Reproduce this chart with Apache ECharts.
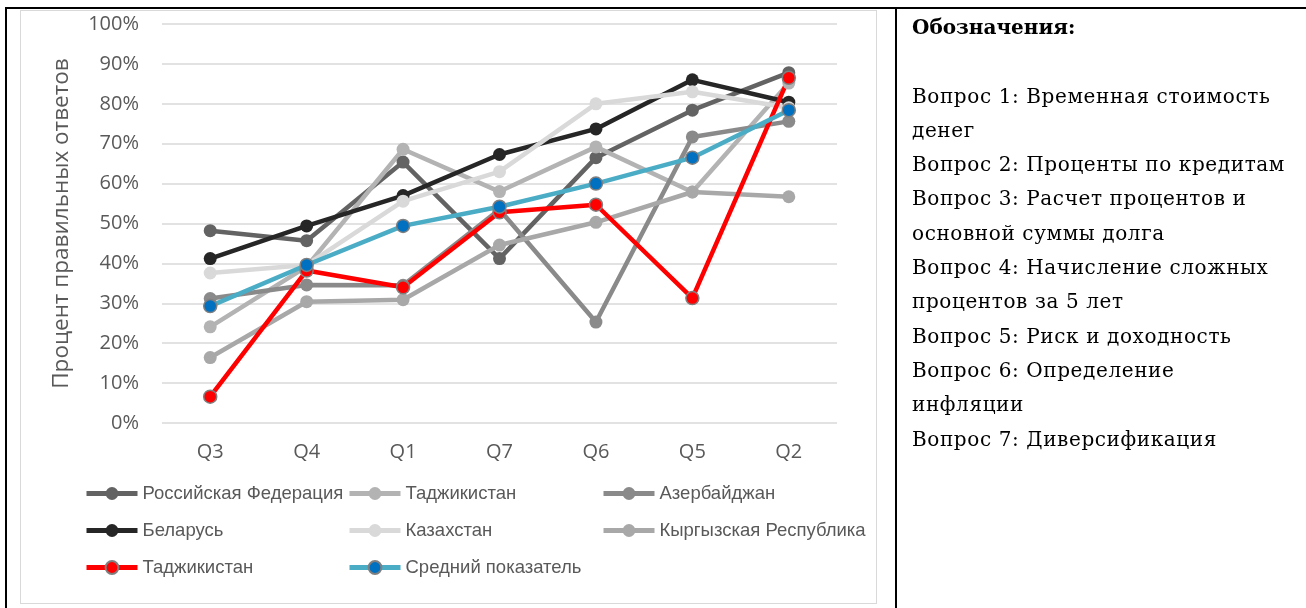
<!DOCTYPE html>
<html>
<head>
<meta charset="utf-8">
<script src="https://cdn.jsdelivr.net/npm/echarts@6/dist/echarts.min.js"></script>
<style>
  html, body { margin: 0; padding: 0; background: #fff; }
  #page { position: relative; width: 1306px; height: 608px; overflow: hidden; }
  #frameTop { position: absolute; left: 5px; top: 7px; width: 1301px; height: 2px; background: #000; }
  #frameLeft { position: absolute; left: 5px; top: 7px; width: 2px; height: 601px; background: #000; }
  #frameMid { position: absolute; left: 895px; top: 7px; width: 2px; height: 601px; background: #000; }
  #chartBox { position: absolute; left: 20px; top: 10px; width: 855px; height: 592px; border: 1px solid #d9d9d9; }
  #chart { position: absolute; left: 0; top: 0; width: 1306px; height: 608px; }
  #notes { position: absolute; left: 912px; top: 10px; width: 390px; font-family: "DejaVu Serif", serif; font-size: 20px; letter-spacing: 0.6px; line-height: 34.3px; color: #000; white-space: nowrap; }
  #notes .title { font-weight: bold; letter-spacing: 0; }
</style>
</head>
<body>
<div id="page">
  <div id="chartBox"></div>
  <div id="chart"></div>
  <div id="frameTop"></div>
  <div id="frameLeft"></div>
  <div id="frameMid"></div>
  <div id="notes"></div>
</div>
<script>
// Question order along the x axis
const categories = ['Q3', 'Q4', 'Q1', 'Q7', 'Q6', 'Q5', 'Q2'];

// Share of correct answers, %
const russia      = [48.2, 45.7, 65.4, 41.2, 66.5, 78.4, 87.8];
const tajikGrey   = [24.1, 39.2, 68.6, 58.0, 69.2, 57.9, 85.2];
const azerbaijan  = [31.2, 34.6, 34.5, 53.5, 25.3, 71.7, 75.6];
const belarus     = [41.2, 49.4, 57.0, 67.3, 73.7, 86.0, 80.4];
const kazakhstan  = [37.6, 39.6, 55.6, 63.0, 80.0, 83.0, 79.0];
const kyrgyzstan  = [16.4, 30.4, 30.9, 44.6, 50.3, 57.9, 56.7];
const tajikRed    = [6.6, 38.2, 34.0, 52.8, 54.7, 31.3, 86.5];
const average     = [29.3, 39.6, 49.4, 54.2, 60.0, 66.5, 78.4];

const yTicks = ['0%', '10%', '20%', '30%', '40%', '50%', '60%', '70%', '80%', '90%', '100%'];

const notesTitle = 'Обозначения:';
const notesLines = [
  '',
  'Вопрос 1: Временная стоимость',
  'денег',
  'Вопрос 2: Проценты по кредитам',
  'Вопрос 3: Расчет процентов и',
  'основной суммы долга',
  'Вопрос 4: Начисление сложных',
  'процентов за 5 лет',
  'Вопрос 5: Риск и доходность',
  'Вопрос 6: Определение',
  'инфляции',
  'Вопрос 7: Диверсификация'
];

// Side panel with the question legend
const notes = document.getElementById('notes');
const t = document.createElement('div');
t.className = 'title';
t.textContent = notesTitle;
notes.appendChild(t);
notesLines.forEach(function (s) {
  const d = document.createElement('div');
  d.textContent = s || '\u00a0';
  notes.appendChild(d);
});

// The second Tajikistan series carries a trailing space so both get their own legend entry
const seriesDefs = [
  { name: 'Российская Федерация', data: russia, line: '#636363', fill: '#636363' },
  { name: 'Таджикистан', data: tajikGrey, line: '#b3b3b3', fill: '#b3b3b3' },
  { name: 'Азербайджан', data: azerbaijan, line: '#8a8a8a', fill: '#8a8a8a' },
  { name: 'Беларусь', data: belarus, line: '#262626', fill: '#262626' },
  { name: 'Казахстан', data: kazakhstan, line: '#d9d9d9', fill: '#d9d9d9' },
  { name: 'Кыргызская Республика', data: kyrgyzstan, line: '#a8a8a8', fill: '#a8a8a8' },
  { name: 'Таджикистан ', data: tajikRed, line: '#ff0000', fill: '#ff0000', border: '#7f7f7f' },
  { name: 'Средний показатель', data: average, line: '#4bacc6', fill: '#0070c0', border: '#7f7f7f' }
];

const series = seriesDefs.map(function (s) {
  return {
    name: s.name,
    type: 'line',
    data: s.data.map(function (v) { return v / 100; }),
    symbol: 'circle',
    symbolSize: 13,
    showSymbol: true,
    lineStyle: { color: s.line, width: 4.5 },
    itemStyle: {
      color: s.fill,
      borderColor: s.border || s.fill,
      borderWidth: s.border ? 1.5 : 0
    },
    emphasis: { disabled: true },
    animation: false
  };
});

const legendText = { fontFamily: 'Liberation Sans, Arial, sans-serif', fontSize: 18.5, color: '#595959' };
function makeLegend(names, left) {
  return {
    data: names,
    orient: 'vertical',
    left: left,
    top: 484,
    padding: 0,
    itemWidth: 51,
    itemHeight: 16,
    itemGap: 18,
    textStyle: legendText,
    lineStyle: { width: 5 },
    formatter: function (n) { return n.trim(); },
    selectedMode: false
  };
}

const chart = echarts.init(document.getElementById('chart'), null, { renderer: 'canvas' });
chart.setOption({
  backgroundColor: 'transparent',
  animation: false,
  grid: { left: 162, right: 469, top: 24, bottom: 185, containLabel: false },
  xAxis: {
    type: 'category',
    data: categories,
    boundaryGap: true,
    axisLine: { show: false },
    axisTick: { show: false },
    axisLabel: { fontFamily: 'Open Sans, sans-serif', fontSize: 20, color: '#595959', margin: 19 }
  },
  yAxis: {
    type: 'value',
    min: 0,
    max: 1,
    interval: 0.1,
    name: 'Процент правильных ответов',
    nameLocation: 'middle',
    nameGap: 89,
    nameTextStyle: { fontFamily: 'Open Sans, sans-serif', fontSize: 22.5, color: '#595959' },
    axisLine: { show: false },
    axisTick: { show: false },
    splitLine: { lineStyle: { color: '#d9d9d9', width: 1.5 } },
    axisLabel: {
      fontFamily: 'Open Sans, sans-serif', fontSize: 20, color: '#595959', margin: 23,
      formatter: function (v) { return yTicks[Math.round(v * 10)]; }
    }
  },
  legend: [
    makeLegend(['Российская Федерация', 'Беларусь', 'Таджикистан '], 84),
    makeLegend(['Таджикистан', 'Казахстан', 'Средний показатель'], 347),
    makeLegend(['Азербайджан', 'Кыргызская Республика'], 601)
  ],
  series: series
});
</script>
</body>
</html>
